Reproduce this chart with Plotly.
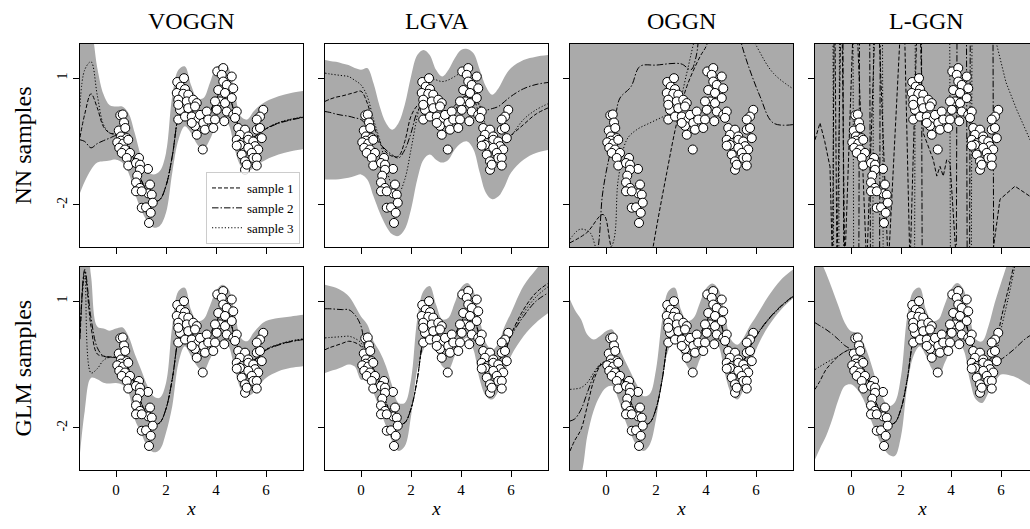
import plotly.graph_objects as go

# ---------------- data ----------------
titles = ["VOGGN", "LGVA", "OGGN", "L-GGN"]
row_labels = ["NN samples", "GLM samples"]
x_ticks = [0, 2, 4, 6]
x_ticklabels = ["0", "2", "4", "6"]
y_ticks = [1, -2]
y_ticklabels = ["1", "-2"]
legend_names = ["sample 1", "sample 2", "sample 3"]

pts_x = [0.17, 0.27, 0.32, 0.11, 0.37, 0.20, 0.43, 0.19, 0.05, 0.29, 0.49, 0.13, 0.36, 0.23, 0.56, 0.43, 0.92, 0.49,
         0.80, 0.96, 1.28, 0.96, 0.85, 0.80, 0.96, 1.36, 1.29, 0.80, 1.03, 1.43, 1.03, 1.20, 1.47, 1.39, 1.32,
         2.45, 2.72, 2.59, 2.76, 2.43, 2.69, 2.89, 2.49, 2.83, 3.09, 3.23, 2.56, 2.89, 3.16, 2.49, 2.76, 3.03, 3.29,
         3.36, 3.63, 3.16, 3.49, 3.69, 3.96, 3.23, 3.56, 3.89, 3.47, 3.03, 2.49,
         4.05, 4.29, 4.23, 4.63, 4.29, 4.43, 4.69, 4.09, 4.36, 4.16, 4.36, 3.96, 4.63, 4.43, 4.69, 4.83, 4.33, 4.76, 4.03,
         4.89, 5.16, 4.96, 5.29, 5.63, 5.76, 5.89, 5.76, 5.63, 4.83, 5.03, 5.29, 5.49, 5.09, 5.56, 5.83, 4.96, 5.29,
         5.69, 5.03, 5.43, 5.49, 5.63, 5.16, 5.63, 5.16, 5.23, 4.83]
pts_y = [0.12, 0.14, -0.05, -0.24, -0.18, -0.38, -0.42, -0.48, -0.52, -0.55, -0.46, -0.65, -0.69, -0.77, -0.77, -0.89, -0.89, -1.07,
         -1.01, -1.05, -1.15, -1.17, -1.31, -1.47, -1.60, -1.52, -1.73, -1.68, -1.68, -1.76, -2.07, -2.06, -1.95, -2.19, -2.43,
         0.91, 1.00, 0.80, 0.74, 0.65, 0.63, 0.61, 0.49, 0.45, 0.49, 0.41, 0.25, 0.29, 0.33, 0.02, 0.09, 0.09, 0.02,
         0.13, 0.21, -0.13, -0.06, 0.02, 0.02, -0.34, -0.22, -0.18, -0.69, -0.06, 0.37,
         1.16, 1.24, 1.08, 1.04, 0.92, 0.84, 0.76, 0.72, 0.65, 0.45, 0.41, 0.45, 0.53, 0.21, 0.13, 0.21, -0.02, 0.06, 0.25,
         -0.18, -0.22, -0.34, -0.38, -0.22, -0.18, 0.25, 0.09, 0.02, -0.46, -0.54, -0.46, -0.50, -0.61, -0.61, -0.42, -0.58, -0.65,
         -0.69, -0.81, -0.77, -0.89, -0.89, -0.97, -1.07, -1.17, -1.05, -0.60]

# common x grid for bands / samples
grid_x = [-1.44, -1.25, -1.0, -0.75, -0.5, -0.25, 0.0, 0.25, 0.5, 0.75, 1.0, 1.25, 1.5, 1.75, 2.0, 2.25,
          2.5, 2.75, 3.0, 3.25, 3.5, 3.75, 4.0, 4.25, 4.5, 4.75, 5.0, 5.25, 5.5, 5.75, 6.0, 6.5, 7.0, 7.5]

# shared fit through the data region (x = 0.25 ... 5.5)
fit_core = [-0.4, -0.6, -0.98, -1.4, -1.7, -1.92, -1.88, -1.55, -0.85, 0.12, 0.5, 0.3, 0.03, -0.03,
            0.2, 0.5, 0.72, 0.6, 0.15, -0.3, -0.45, -0.4]

# VOGGN, NN samples
voggn_nn_hi = [2.5, 2.5, 2.2, 1.25, 0.62, 0.36, 0.33, 0.33, 0.17, -0.3, -0.85, -1.2, -1.28, -1.2, -0.77, 0.57,
               1.2, 1.28, 0.84, 0.53, 0.53, 0.88, 1.24, 1.35, 1.24, 0.65, 0.09, 0.02, 0.21, 0.35, 0.45, 0.57, 0.65, 0.7]
voggn_nn_lo = [-1.72, -1.45, -1.17, -1.0, -0.97, -0.95, -0.93, -1.0, -1.24, -1.72, -2.11, -2.39, -2.54, -2.5, -2.19, -1.24,
               -0.46, -0.14, -0.3, -0.57, -0.69, -0.46, -0.14, 0.02, -0.1, -0.69, -1.09, -1.2, -1.13, -1.02, -0.93, -0.81, -0.73, -0.68]
voggn_nn_s1 = [-0.4, 0.15, 0.63, 0.3, -0.15, -0.3, -0.33] + fit_core + [-0.3, -0.2, -0.06, 0.02, 0.08]
voggn_nn_s2 = [-0.46, -0.5, -0.65, -0.55, -0.48, -0.42, -0.36] + fit_core + [-0.3, -0.2, -0.07, 0.01, 0.07]
voggn_nn_s3 = [0.33, 1.2, 1.39, 0.6, -0.1, -0.3, -0.33] + fit_core + [-0.29, -0.19, -0.05, 0.03, 0.09]

# LGVA, NN samples
lgva_nn_hi = [1.43, 1.41, 1.39, 1.35, 1.31, 1.24, 1.2, 1.24, 0.88, 0.33, -0.06, -0.22, -0.06, 0.37, 1.04, 1.55,
              1.67, 1.55, 1.2, 1.04, 1.2, 1.47, 1.67, 1.69, 1.59, 1.2, 0.8, 0.61, 0.76, 1.04, 1.24, 1.43, 1.51, 1.55]
lgva_nn_lo = [-1.4, -1.4, -1.4, -1.38, -1.36, -1.32, -1.28, -1.4, -1.8, -2.19, -2.5, -2.7, -2.74, -2.58, -2.11, -1.4,
              -0.93, -0.81, -0.93, -1.0, -0.93, -0.69, -0.54, -0.5, -0.69, -1.24, -1.72, -1.87, -1.8, -1.56, -1.24, -0.93, -0.77, -0.7]
lgva_nn_s1 = [0.45, 0.5, 0.55, 0.58, 0.62, 0.66, 0.69, 0.41, -0.1, -0.5, -0.75, -0.85, -0.85, -0.5, 0.1, 0.35,
              0.45, 0.5, 0.35, 0.15, 0.1, 0.25, 0.45, 0.6, 0.5, 0.1, -0.3, -0.5, -0.55, -0.45, -0.35, -0.1, 0.15, 0.3]
lgva_nn_s2 = [0.21, 0.19, 0.15, 0.12, 0.1, 0.06, 0.02, -0.14, -0.35, -0.55, -0.7, -0.82, -0.89, -0.7, -0.3, 0.2,
              0.41, 0.5, 0.35, 0.2, 0.2, 0.35, 0.5, 0.6, 0.55, 0.35, 0.25, 0.28, 0.33, 0.45, 0.57, 0.75, 0.85, 0.9]
lgva_nn_s3 = [1.12, 1.1, 1.08, 1.06, 1.04, 0.95, 0.84, 0.57, 0.02, -0.46, -1.09, -1.56, -1.72, -1.4, -0.69, 0.09,
              0.65, 1.0, 0.96, 0.92, 0.96, 1.04, 1.12, 1.08, 0.8, 0.33, -0.14, -0.46, -0.61, -0.57, -0.38, 0.02, 0.25, 0.4]

# OGGN, NN samples (band covers whole panel)
full_x = [-2.0, 8.0]
full_lo = [-10.0, -10.0]
full_hi = [10.0, 10.0]
oggn_nn_s1_x = [-1.44, -0.77, -0.12, 0.2, 0.8, 1.5, 1.89, 2.43, 2.83, 3.23, 3.76, 4.03, 4.3]
oggn_nn_s1_y = [-2.9, -2.66, -2.23, -3.0, -4.5, -4.5, -2.98, -1.24, -0.06, 0.8, 1.51, 1.79, 2.5]
oggn_nn_s2_x = [-1.44, -0.6, -0.31, -0.15, 0.0, 0.16, 0.4, 0.56, 1.0, 1.36, 2.0, 3.0, 3.4, 3.6, 3.8, 4.5, 5.2, 5.43, 6.16, 6.69, 7.48]
oggn_nn_s2_y = [-4.0, -3.8, -3.0, -1.8, -1.24, -0.77, 0.17, 0.53, 0.8, 1.28, 1.31, 1.34, 1.2, 1.5, 2.2, 3.0, 2.5, 1.79, 0.57, -0.06, -0.1]
oggn_nn_s3_x = [-1.44, -1.04, -0.64, -0.3, 0.2, 0.49, 0.83, 1.23, 1.76, 2.29, 2.69, 2.96, 3.23, 3.49, 3.8, 5.0, 6.03, 6.69, 7.48]
oggn_nn_s3_y = [-2.82, -2.58, -2.66, -3.1, -3.0, -1.4, -0.46, -0.22, -0.06, 0.09, 0.21, 0.49, 1.12, 1.79, 2.5, 3.0, 1.75, 1.12, 0.75]

# L-GGN, NN samples (band covers whole panel, wild samples)
lggn_nn_s1_x = [-1.44, -1.24, -1.05, -0.84, -0.74, -0.66, -0.56, -0.38, -0.25, 0.16, 0.63, 1.03, 1.49, 2.09, 2.36, 2.7,
                2.89, 3.29, 3.43, 3.56, 3.69, 3.83, 3.96, 4.23, 5.0, 5.7, 5.96, 6.56, 7.16]
lggn_nn_s1_y = [-0.46, -0.06, -0.5, -1.1, -3.5, 3.5, -3.5, 3.5, -3.5, 3.5, -3.5, 3.5, -3.5, 3.5, -3.5, 3.5,
                -0.3, -0.93, -1.32, -1.09, -1.32, -0.93, -1.0, -3.5, -5.0, -3.0, -1.87, -1.56, -1.8]
lggn_nn_s2_x = [-1.44, -0.33, -0.29, 0.31, 0.35, 0.74, 0.78, 1.14, 1.18, 2.81, 2.85, 4.21, 4.25, 4.61, 4.65, 4.74,
                4.78, 5.67, 5.71, 7.16]
lggn_nn_s2_y = [4.0, 4.0, -4.0, -4.0, 4.0, 4.0, -4.0, -4.0, 4.0, 4.0, -4.0, -4.0, 4.0, 4.0, -4.0, -4.0,
                4.0, 4.0, -4.0, -4.0]
lggn_nn_s3_x = [-1.44, -0.73, -0.69, -0.49, -0.45, 0.07, 0.11, 0.87, 0.91, 1.25, 1.29, 2.54, 2.58, 3.94, 3.98, 4.81,
                4.85, 5.6, 5.83, 6.2, 6.63, 7.16]
lggn_nn_s3_y = [4.0, 4.0, -4.0, -4.0, 4.0, 4.0, -4.0, -4.0, 4.0, 4.0, -4.0, -4.0, 4.0, 4.0, -4.0, -4.0,
                4.0, 4.0, 1.79, 0.9, 0.25, -0.46]

# VOGGN, GLM samples
voggn_glm_hi = [2.5, 2.6, 1.6, 0.4, 0.35, 0.3, 0.35, 0.38, 0.17, -0.25, -0.62, -1.0, -1.25, -1.29, -0.94, 0.41,
                1.24, 1.32, 0.8, 0.53, 0.57, 0.88, 1.24, 1.39, 1.28, 0.72, 0.13, 0.05, 0.25, 0.42, 0.53, 0.6, 0.64, 0.68]
voggn_glm_lo = [-2.6, -1.6, -0.82, -0.85, -0.93, -0.95, -0.94, -0.98, -1.17, -1.8, -2.12, -2.44, -2.58, -2.52, -2.12, -1.49,
                -0.46, -0.07, -0.3, -0.54, -0.66, -0.38, -0.11, 0.05, -0.07, -0.62, -1.09, -1.25, -1.17, -0.98, -0.82, -0.66, -0.58, -0.54]
voggn_glm_s1 = [0.1, 1.7, 0.4, -0.25, -0.3, -0.32, -0.33] + fit_core + [-0.3, -0.15, -0.03, 0.05, 0.1]
voggn_glm_s2 = [0.2, 1.75, 0.6, -0.1, -0.3, -0.33, -0.34] + fit_core + [-0.3, -0.16, -0.04, 0.04, 0.09]
voggn_glm_s3 = [0.3, 1.6, -0.7, -0.6, -0.4, -0.33, -0.34] + fit_core + [-0.3, -0.14, -0.02, 0.06, 0.11]

# LGVA, GLM samples
lgva_glm_hi = [1.39, 1.36, 1.32, 1.24, 1.12, 0.9, 0.64, 0.45, 0.05, -0.2, -0.54, -1.01, -1.41, -1.41, -0.86, 0.57,
               1.24, 1.36, 0.92, 0.57, 0.61, 0.96, 1.32, 1.43, 1.24, 0.57, 0.01, -0.15, 0.01, 0.41, 0.72, 1.36, 1.75, 2.1]
lgva_glm_lo = [-0.7, -0.66, -0.62, -0.56, -0.5, -0.55, -0.86, -0.85, -1.17, -1.57, -1.96, -2.32, -2.55, -2.44, -1.73, -0.62,
               -0.15, 0.09, -0.15, -0.54, -0.62, -0.3, 0.01, 0.13, -0.15, -0.86, -1.25, -1.33, -1.13, -0.7, -0.3, 0.17, 0.49, 0.72]
lgva_glm_s1 = [-0.15, -0.1, -0.05, 0.0, 0.05, 0.02, -0.07] + fit_core + [-0.2, 0.21, 0.8, 1.2, 1.43]
lgva_glm_s2 = [0.82, 0.82, 0.81, 0.8, 0.8, 0.68, 0.41] + fit_core + [-0.2, 0.17, 0.64, 1.0, 1.2]
lgva_glm_s3 = [0.13, 0.14, 0.15, 0.16, 0.17, 0.12, 0.01] + fit_core + [-0.2, 0.2, 0.72, 1.1, 1.35]

# OGGN, GLM samples
oggn_glm_hi = [1.04, 0.8, 0.57, 0.21, 0.09, 0.17, 0.29, 0.33, -0.07, -0.4, -0.7, -1.0, -1.25, -1.2, -0.62, 0.57,
               1.24, 1.32, 0.8, 0.53, 0.6, 0.95, 1.3, 1.42, 1.28, 0.7, 0.09, -0.03, 0.13, 0.41, 0.64, 1.12, 1.51, 1.76]
oggn_glm_lo = [-3.5, -3.3, -3.1, -2.2, -1.6, -1.25, -1.05, -1.01, -1.33, -1.8, -2.16, -2.44, -2.55, -2.4, -1.8, -0.86,
               -0.15, 0.09, -0.22, -0.54, -0.7, -0.38, -0.07, 0.05, -0.07, -0.7, -1.17, -1.33, -1.09, -0.62, -0.15, 0.41, 0.8, 1.08]
oggn_glm_s1 = [-2.55, -2.3, -2.04, -1.49, -0.9, -0.55, -0.42] + fit_core + [-0.1, 0.17, 0.57, 0.88, 1.12]
oggn_glm_s2 = [-1.84, -1.79, -1.57, -1.17, -0.78, -0.52, -0.42] + fit_core + [-0.1, 0.18, 0.58, 0.89, 1.13]
oggn_glm_s3 = [-1.09, -1.08, -1.05, -0.93, -0.7, -0.5, -0.42] + fit_core + [-0.1, 0.16, 0.56, 0.87, 1.11]

# L-GGN, GLM samples
lggn_glm_hi = [2.3, 2.0, 1.67, 1.28, 0.88, 0.49, 0.29, 0.25, 0.01, -0.38, -0.86, -1.25, -1.49, -1.4, -0.78, 0.64,
               1.24, 1.32, 0.8, 0.53, 0.57, 0.92, 1.28, 1.43, 1.28, 0.64, 0.09, 0.05, 0.41, 0.96, 1.43, 2.3, 3.0, 3.5]
lggn_glm_lo = [-2.75, -2.5, -2.2, -1.8, -1.33, -1.01, -0.97, -1.09, -1.33, -1.73, -2.12, -2.44, -2.63, -2.67, -2.2, -1.01,
               -0.3, -0.07, -0.3, -0.62, -0.78, -0.46, -0.15, 0.01, -0.15, -0.86, -1.33, -1.41, -1.17, -0.94, -0.74, -0.78, -0.94, -1.1]
lggn_glm_s1 = [-1.09, -0.9, -0.62, -0.45, -0.3, -0.2, -0.15] + fit_core + [-0.2, 0.57, 1.83, 3.6, 5.0]
lggn_glm_s2 = [0.49, 0.42, 0.33, 0.22, 0.09, -0.05, -0.15] + fit_core + [-0.45, -0.38, -0.15, 0.12, 0.3]
lggn_glm_s3 = [-0.62, -0.55, -0.46, -0.38, -0.3, -0.2, -0.15] + fit_core + [-0.3, 0.33, 1.67, 3.5, 5.0]

# ---------------- panels ----------------
panels = [
    (0, 0, grid_x, voggn_nn_lo, voggn_nn_hi,
     [(grid_x, voggn_nn_s1), (grid_x, voggn_nn_s2), (grid_x, voggn_nn_s3)], "spline"),
    (0, 1, grid_x, lgva_nn_lo, lgva_nn_hi,
     [(grid_x, lgva_nn_s1), (grid_x, lgva_nn_s2), (grid_x, lgva_nn_s3)], "spline"),
    (0, 2, full_x, full_lo, full_hi,
     [(oggn_nn_s1_x, oggn_nn_s1_y), (oggn_nn_s2_x, oggn_nn_s2_y), (oggn_nn_s3_x, oggn_nn_s3_y)], "spline"),
    (0, 3, full_x, full_lo, full_hi,
     [(lggn_nn_s1_x, lggn_nn_s1_y), (lggn_nn_s2_x, lggn_nn_s2_y), (lggn_nn_s3_x, lggn_nn_s3_y)], "linear"),
    (1, 0, grid_x, voggn_glm_lo, voggn_glm_hi,
     [(grid_x, voggn_glm_s1), (grid_x, voggn_glm_s2), (grid_x, voggn_glm_s3)], "spline"),
    (1, 1, grid_x, lgva_glm_lo, lgva_glm_hi,
     [(grid_x, lgva_glm_s1), (grid_x, lgva_glm_s2), (grid_x, lgva_glm_s3)], "spline"),
    (1, 2, grid_x, oggn_glm_lo, oggn_glm_hi,
     [(grid_x, oggn_glm_s1), (grid_x, oggn_glm_s2), (grid_x, oggn_glm_s3)], "spline"),
    (1, 3, grid_x, lggn_glm_lo, lggn_glm_hi,
     [(grid_x, lggn_glm_s1), (grid_x, lggn_glm_s2), (grid_x, lggn_glm_s3)], "spline"),
]

W, H = 1030, 529
col_px = [(80, 303), (325, 548), (570, 793), (815, 1030)]
row_px = [(44, 247), (267, 470)]
x_ranges = [[-1.44, 7.48], [-1.44, 7.48], [-1.44, 7.48], [-1.44, 7.16]]
y_range = [-3.0, 1.81]
BAND = "#aaaaaa"
DASHES = ["4px,2px", "6.5px,2px,1.5px,2px", "1.2px,2px"]
SERIF = "Liberation Serif"

fig = go.Figure()
layout = {}
for (r, c, bx, lo, hi, samples, shape) in panels:
    p = r * 4 + c
    sfx = "" if p == 0 else str(p + 1)
    xa, ya = "x" + sfx, "y" + sfx
    fig.add_trace(go.Scatter(x=bx, y=lo, xaxis=xa, yaxis=ya, mode="lines",
                             line=dict(width=0, shape="spline", color=BAND), showlegend=False, hoverinfo="skip"))
    fig.add_trace(go.Scatter(x=bx, y=hi, xaxis=xa, yaxis=ya, mode="lines", fill="tonexty", fillcolor=BAND,
                             line=dict(width=0, shape="spline", color=BAND), showlegend=False, hoverinfo="skip"))
    for k, (sx, sy) in enumerate(samples):
        fig.add_trace(go.Scatter(x=sx, y=sy, xaxis=xa, yaxis=ya, mode="lines",
                                 line=dict(color="black", width=1, dash=DASHES[k], shape=shape),
                                 name=legend_names[k], showlegend=(p == 0)))
    fig.add_trace(go.Scatter(x=pts_x, y=pts_y, xaxis=xa, yaxis=ya, mode="markers",
                             marker=dict(size=9, color="white", line=dict(color="black", width=1)),
                             showlegend=False))
    x0, x1 = col_px[c]
    y0, y1 = row_px[r]
    layout["xaxis" + sfx] = dict(
        domain=[x0 / W, x1 / W], range=x_ranges[c], anchor=ya,
        showline=True, linecolor="black", linewidth=1, mirror=True,
        showgrid=False, zeroline=False,
        tickmode="array", tickvals=x_ticks, ticktext=x_ticklabels,
        ticks="outside", ticklen=6, tickwidth=1, tickcolor="black",
        showticklabels=(r == 1),
        tickfont=dict(family=SERIF, size=15, color="black"),
        title=dict(text="<i>x</i>" if r == 1 else "", font=dict(family=SERIF, size=19, color="black"), standoff=4),
    )
    layout["yaxis" + sfx] = dict(
        domain=[1 - y1 / H, 1 - y0 / H], range=y_range, anchor=xa,
        showline=True, linecolor="black", linewidth=1, mirror=(c != 3),
        showgrid=False, zeroline=False,
        tickmode="array", tickvals=y_ticks, ticktext=y_ticklabels,
        ticks="outside", ticklen=6, tickwidth=1, tickcolor="black",
        showticklabels=(c == 0), tickangle=-90,
        tickfont=dict(family=SERIF, size=14, color="black"),
    )

annotations = []
for c, t in enumerate(titles):
    x0, x1 = col_px[c]
    cx = (x0 + 303 - 80 + x0) / 2 / W
    annotations.append(dict(text=t, x=cx, y=1 - 21 / H, xref="paper", yref="paper", showarrow=False,
                            xanchor="center", yanchor="middle", font=dict(family=SERIF, size=24, color="black")))
for r, t in enumerate(row_labels):
    y0, y1 = row_px[r]
    annotations.append(dict(text=t, x=22 / W, y=1 - (y0 + y1) / 2 / H, xref="paper", yref="paper",
                            showarrow=False, textangle=-90, xanchor="center", yanchor="middle",
                            font=dict(family=SERIF, size=24, color="black")))

fig.update_layout(
    width=W, height=H, autosize=False,
    margin=dict(l=0, r=0, t=0, b=0),
    paper_bgcolor="white", plot_bgcolor="white",
    annotations=annotations,
    legend=dict(x=300 / W, y=1 - 244 / H, xanchor="right", yanchor="bottom",
                bgcolor="rgba(255,255,255,0.85)", bordercolor="#cccccc", borderwidth=1,
                font=dict(family=SERIF, size=13, color="black"), itemwidth=30,
                traceorder="normal", tracegroupgap=0),
    **layout,
)

fig.write_html("out.html")
